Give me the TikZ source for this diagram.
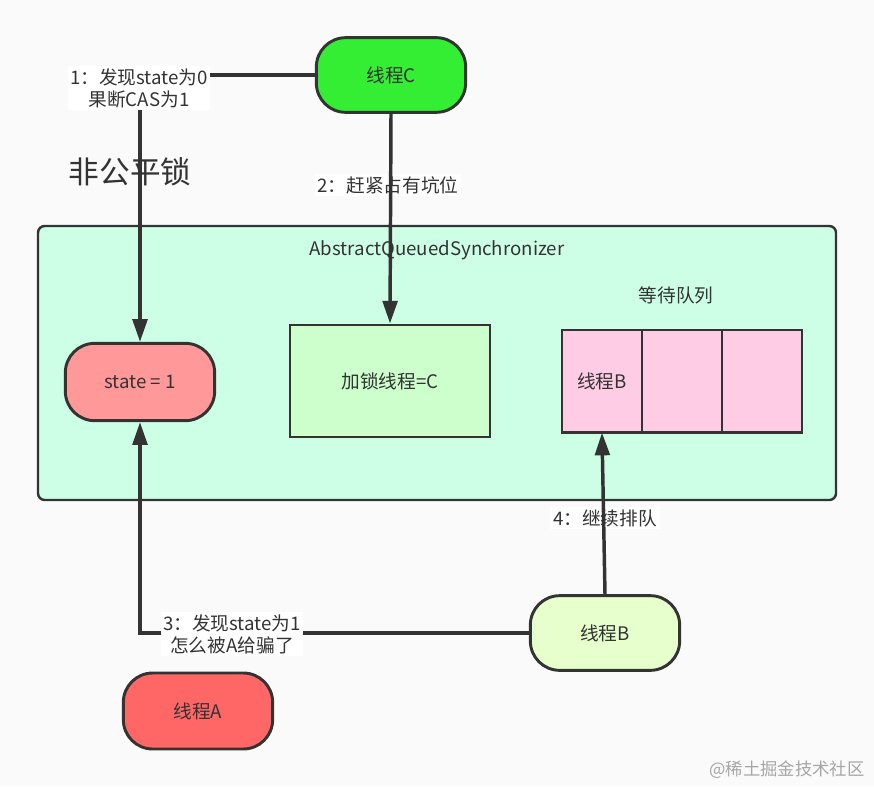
\documentclass[tikz,border=0pt]{standalone}
\usepackage{fontspec}
\setmainfont{Noto Sans CJK SC}
\usepackage{xcolor}
\usetikzlibrary{arrows.meta}
\usetikzlibrary{calc, positioning}

\definecolor{bgcol}{HTML}{FAFAFA}
\definecolor{linecol}{HTML}{333333}
\definecolor{greenC}{HTML}{33EE33}
\definecolor{aqscol}{HTML}{CCFFE6}
\definecolor{statecol}{HTML}{FF9999}
\definecolor{lockcol}{HTML}{CCFFCC}
\definecolor{queuecol}{HTML}{FFCCE6}
\definecolor{greenB}{HTML}{E6FFCC}
\definecolor{redA}{HTML}{FF6666}

\tikzstyle{thread}=[rectangle, draw=linecol, line width=2.2pt, rounded corners=22pt, minimum width=112pt, minimum height=56pt]
\tikzstyle{cell}=[rectangle, draw=linecol, line width=2.2pt, fill=queuecol, minimum width=60pt, minimum height=77pt, outer sep=0pt, anchor=north west]
\tikzstyle{steplabel}=[fill=white, align=center, inner sep=2pt, font=\fontsize{14pt}{16.5pt}\selectfont]
\tikzstyle{conn}=[draw=linecol, line width=2.6pt, ->]

\begin{document}
\begin{tikzpicture}[x=0.75pt, y=-0.75pt, color=linecol]
\tikzset{>={Triangle[length=17pt, width=11pt]}}

\tikzset{every node/.style={text=linecol, font=\fontsize{14pt}{16.5pt}\selectfont}}

% background and page size
\fill[bgcol] (0,0) rectangle (874,786);
\useasboundingbox (0,0) rectangle (874,786);

% AQS box
\draw[fill=aqscol, line width=1.8pt, rounded corners=5pt] (38,226) rectangle (836,500);
\node (aqs) at (437,250) {AbstractQueuedSynchronizer};

% Threads
\node[thread, fill=greenC] (thrC) at (391,75) {线程C};
\node[thread, fill=greenB] (thrB) at (605,633) {线程B};
\node[thread, fill=redA, minimum height=57pt] (thrA) at (198,711) {线程A};

% inside AQS
\node[thread, fill=statecol, minimum height=58pt] (state) at (140,382) {state = 1};
\node[rectangle, draw=linecol, line width=2.2pt, fill=lockcol, minimum width=150pt, minimum height=84pt] (lock) at (390,381) {加锁线程=C};

% waiting queue
\node (qtitle) at (676,295) {等待队列};
\node[cell] (q1) at (562,330) {线程B};
\node[cell] (q2) at (q1.north east) {};
\node[cell] (q3) at (q2.north east) {};

% title
\node[font=\fontsize{23pt}{26pt}\selectfont] (fair) at (130,172) {非公平锁};

% step 2
\node[steplabel] (lbl2) at (388,185) {2：赶紧占有坑位};
\draw[conn] (thrC.south) -- (lock.north);

% step 1
\draw[conn] (thrC.west) -| (state.north);
\node[steplabel] (lbl1) at (139,88) {1：发现state为0\\果断CAS为1};

% step 3
\draw[conn] (thrB.west) -| (state.south);
\node[steplabel] (lbl3) at (232,634) {3：发现state为1\\怎么被A给骗了};

% step 4
\node[steplabel] (lbl4) at (605,518) {4：继续排队};
\draw[conn] (thrB.north) -- (q1.south);

% watermark
\node[text=gray!70, font=\fontsize{13pt}{15pt}\selectfont] (mark) at (787,770) {@稀土掘金技术社区};

\end{tikzpicture}
\end{document}
